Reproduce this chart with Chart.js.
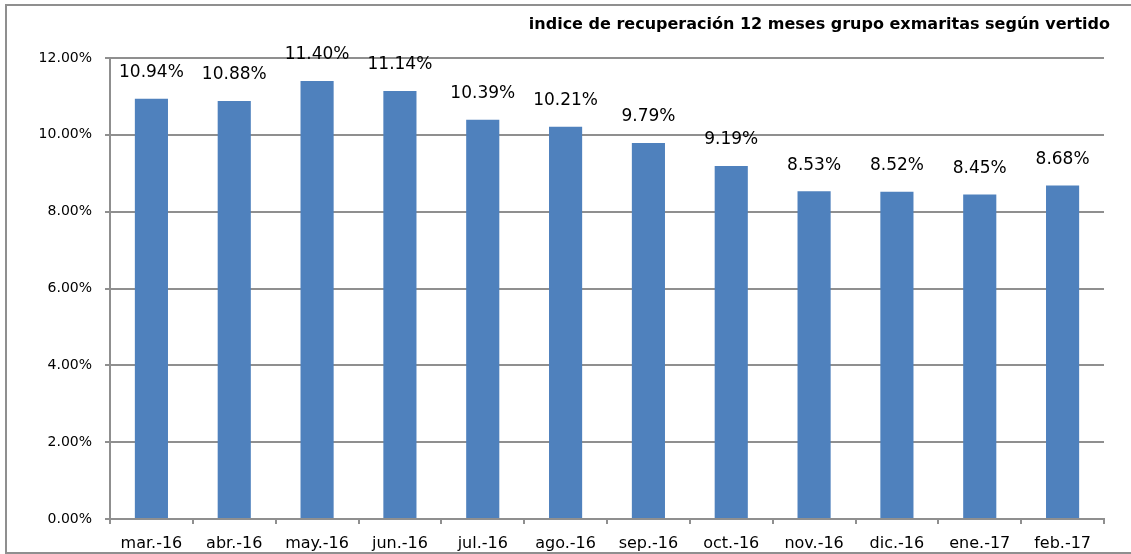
<!DOCTYPE html>
<html>
<head>
<meta charset="utf-8">
<script src="https://cdn.jsdelivr.net/npm/chart.js@4"></script>
<style>
  body { margin: 0; background: #fff; }
  #wrap { position: relative; width: 1131px; height: 554px; }
</style>
</head>
<body>
<div id="wrap"><canvas id="recuperacionChart" width="1131" height="554"></canvas></div>
<script>
const months = ['mar.-16', 'abr.-16', 'may.-16', 'jun.-16', 'jul.-16', 'ago.-16',
  'sep.-16', 'oct.-16', 'nov.-16', 'dic.-16', 'ene.-17', 'feb.-17'];
const recuperacion = [10.94, 10.88, 11.40, 11.14, 10.39, 10.21, 9.79, 9.19, 8.53, 8.52, 8.45, 8.68];
const yTicks = [0, 2, 4, 6, 8, 10, 12];
const chartTitle = 'indice de recuperación 12 meses grupo exmaritas según vertido';

const gridGray = '#8f8f8f';
const fontFamily = '"DejaVu Sans", Verdana, sans-serif';

// frame, title and value labels
const decorations = {
  id: 'decorations',
  beforeDraw(chart) {
    const ctx = chart.ctx;
    ctx.save();
    ctx.strokeStyle = gridGray;
    ctx.lineWidth = 2;
    ctx.strokeRect(6, 5, 1200, 548);
    ctx.restore();
  },
  afterDatasetsDraw(chart) {
    const ctx = chart.ctx;
    ctx.save();
    ctx.fillStyle = '#000';
    ctx.textAlign = 'center';
    ctx.textBaseline = 'middle';
    ctx.font = '17px ' + fontFamily;
    chart.getDatasetMeta(0).data.forEach((bar, i) => {
      ctx.fillText(recuperacion[i].toFixed(2) + '%', bar.x, bar.y - 26);
    });
    ctx.font = 'bold 16px ' + fontFamily;
    ctx.textAlign = 'right';
    ctx.fillText(chartTitle, 1110, 25);
    ctx.restore();
  }
};

new Chart(document.getElementById('recuperacionChart'), {
  type: 'bar',
  data: {
    labels: months,
    datasets: [{
      data: recuperacion,
      backgroundColor: '#4f81bd',
      barPercentage: 0.4,
      categoryPercentage: 1
    }]
  },
  options: {
    responsive: false,
    animation: false,
    layout: { padding: { top: 58, right: 27, left: 0, bottom: 0 } },
    plugins: {
      legend: { display: false },
      tooltip: { enabled: false }
    },
    scales: {
      x: {
        afterFit: scale => { scale.height = 35; },
        grid: { drawOnChartArea: false, color: gridGray, lineWidth: 2, tickLength: 5 },
        border: { color: gridGray, width: 2 },
        ticks: { color: '#000', font: { family: fontFamily, size: 16 }, padding: 10 }
      },
      y: {
        min: 0,
        max: 12,
        afterFit: scale => { scale.width = 110; },
        afterBuildTicks: scale => { scale.ticks = yTicks.map(v => ({ value: v })); },
        grid: { color: gridGray, lineWidth: 2, tickLength: 5 },
        border: { color: gridGray, width: 2 },
        ticks: {
          color: '#000',
          font: { family: fontFamily, size: 14 },
          padding: 13,
          callback: v => v.toFixed(2) + '%'
        }
      }
    }
  },
  plugins: [decorations]
});
</script>
</body>
</html>
